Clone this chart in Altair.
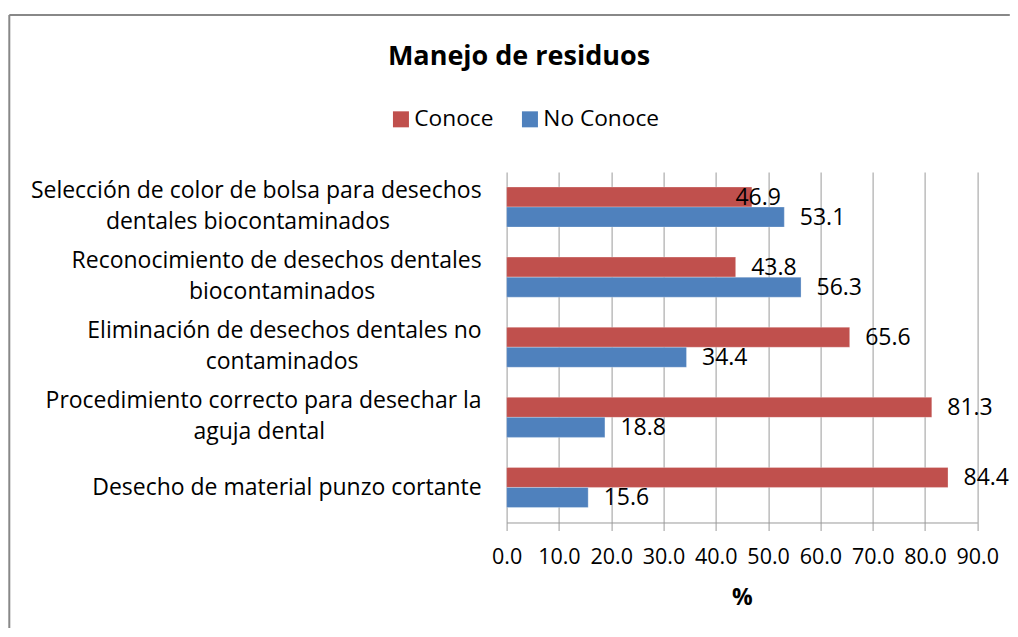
import altair as alt
import pandas as pd

# ---- data ----
label_line1 = [
    "Selección de color de bolsa para desechos",
    "Reconocimiento de desechos dentales",
    "Eliminación de desechos dentales no",
    "Procedimiento correcto para desechar la",
    "Desecho de material punzo cortante",
]
label_line2 = [
    "dentales biocontaminados",
    "biocontaminados",
    "contaminados",
    "aguja dental",
    "",
]
conoce = [46.9, 43.8, 65.6, 81.3, 84.4]
no_conoce = [53.1, 56.3, 34.4, 18.8, 15.6]
series = ["Conoce", "No Conoce"]
colors = ["#C0504D", "#4F81BD"]
x_ticks = [0, 10, 20, 30, 40, 50, 60, 70, 80, 90]
title_text = "Manejo de residuos"
x_title = "%"

categories = [(a + " " + b).strip() for a, b in zip(label_line1, label_line2)]

rows = []
for c, v1, v2 in zip(categories, conoce, no_conoce):
    rows.append({"category": c, "series": series[0], "value": v1})
    rows.append({"category": c, "series": series[1], "value": v2})
df = pd.DataFrame(rows)

labels_df = pd.DataFrame({"category": categories, "line1": label_line1, "line2": label_line2})
deco_df = pd.DataFrame({"title": [title_text]})

# ---- layout ----
W, H = 470.7, 350.5
PAD_RIGHT = 32.5
FONT = "Open Sans"
FS = 23
GRID = "#9A9A9A"
FRAME = "#888888"
LABEL_RIGHT = -25          # right edge of category labels (px from plot left)
CHAR_W = 11.4              # approx. average char width used to centre 2nd line

yscale = alt.Scale(domain=categories, paddingInner=30 / 70, paddingOuter=15 / 70)
y_enc = alt.Y("category:N", scale=yscale, axis=None)
yoff_enc = alt.YOffset("series:N", scale=alt.Scale(domain=series, paddingInner=0, paddingOuter=0))
x_scale = alt.Scale(domain=[0, 90], nice=False, zero=True)

base = alt.Chart(df)

bars = base.mark_bar(stroke="white", strokeOpacity=0.35, strokeWidth=0.8).encode(
    y=y_enc,
    yOffset=yoff_enc,
    x=alt.X(
        "value:Q",
        scale=x_scale,
        axis=alt.Axis(
            values=x_ticks,
            format=".1f",
            title=x_title,
            grid=True,
            gridColor=GRID,
            gridWidth=1,
            domainColor=GRID,
            domainWidth=1,
            tickColor=GRID,
            tickSize=8,
            labelFont=FONT,
            labelFontSize=21.5,
            labelColor="#000000",
            labelPadding=16,
            labelFlush=False,
            labelOverlap=False,
            titleFont=FONT,
            titleFontSize=23,
            titleFontWeight="bold",
            titleColor="#000000",
            titlePadding=19,
        ),
    ),
    color=alt.Color(
        "series:N",
        scale=alt.Scale(domain=series, range=colors),
        legend=alt.Legend(
            orient="none",
            legendX=-117,
            legendY=-64.5,
            direction="horizontal",
            title=None,
            symbolType="square",
            symbolSize=256,
            symbolStrokeWidth=0,
            labelFont=FONT,
            labelFontSize=22.7,
            labelColor="#000000",
            labelOffset=2,
            columnPadding=25,
        ),
    ),
)

text_common = dict(align="left", baseline="middle", font=FONT, fontSize=23, color="#000000")
value_enc = dict(
    y=y_enc,
    yOffset=yoff_enc,
    x=alt.X("value:Q", scale=x_scale),
    text=alt.Text("value:Q", format=".1f"),
)
first_pair = f"datum.category == '{categories[0]}' && datum.series == '{series[0]}'"
value_labels = base.mark_text(dx=15.5, dy=1, **text_common).encode(**value_enc).transform_filter(
    f"!({first_pair})"
)
value_label_inside = base.mark_text(dx=-16.5, dy=1, **text_common).encode(**value_enc).transform_filter(
    first_pair
)

lab = alt.Chart(labels_df)
lab_single = lab.mark_text(align="right", baseline="alphabetic", dy=7.5, font=FONT, fontSize=FS,
                           color="#000000").encode(
    y=y_enc, x=alt.value(LABEL_RIGHT), text="line1:N"
).transform_filter("datum.line2 == ''")
lab_first = lab.mark_text(align="right", baseline="alphabetic", dy=-9.5, font=FONT, fontSize=FS,
                          color="#000000").encode(
    y=y_enc, x=alt.value(LABEL_RIGHT), text="line1:N"
).transform_filter("datum.line2 != ''")
lab_second = lab.mark_text(align="center", baseline="alphabetic", dy=21.5, font=FONT, fontSize=FS,
                           color="#000000").transform_filter(
    "datum.line2 != ''"
).transform_calculate(
    value=f"({LABEL_RIGHT} - length(datum.line1) * {CHAR_W} / 2) * 90 / {W}"
).encode(
    y=y_enc, x=alt.X("value:Q", scale=x_scale), text="line2:N"
)

deco = alt.Chart(deco_df)
frame_top = deco.mark_rule(color=FRAME, strokeWidth=2).encode(
    x=alt.value(9.3 - 506.6), x2=alt.value(W + PAD_RIGHT), y=alt.value(15 - 172)
)
frame_left = deco.mark_rule(color=FRAME, strokeWidth=2).encode(
    x=alt.value(9.3 - 506.6), y=alt.value(15 - 172), y2=alt.value(H + 110)
)
title = deco.mark_text(align="center", baseline="alphabetic", font=FONT, fontSize=27,
                       fontWeight="bold", color="#000000").encode(
    x=alt.value(519 - 506.6), y=alt.value(65 - 172), text="title:N"
)

chart = alt.layer(
    frame_top, frame_left, bars, value_labels, value_label_inside,
    lab_single, lab_first, lab_second, title
).properties(
    width=W,
    height=H,
    autosize=alt.AutoSizeParams(type="none"),
    padding={"left": 498.6, "top": 164, "right": PAD_RIGHT, "bottom": 105},
    background="white",
).configure_view(stroke=None)

chart.save("out.html", embed_options={"renderer": "svg", "actions": False})
